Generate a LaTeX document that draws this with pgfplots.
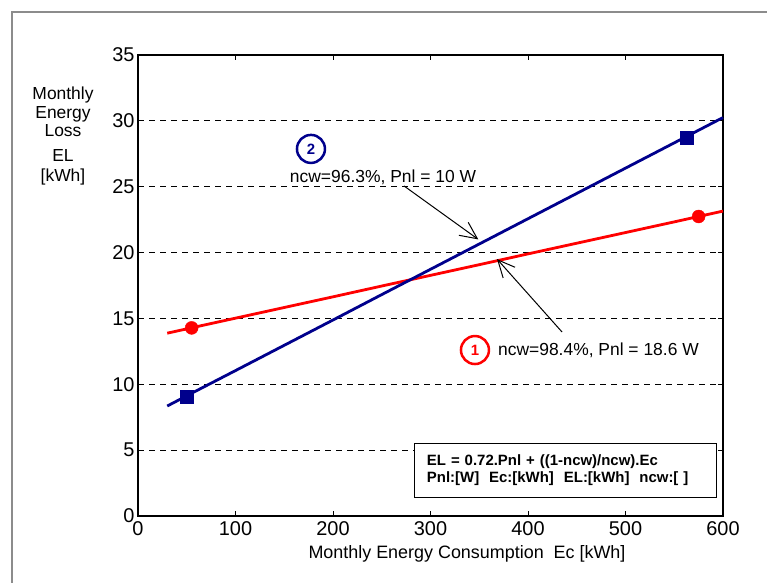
\documentclass[border=0pt]{standalone}
\usepackage{pgfplots}
\pgfplotsset{compat=1.18}
\usetikzlibrary{arrows.meta}
\usepackage{fontspec}
\setmainfont{Liberation Sans}
\definecolor{lossred}{RGB}{255,0,0}
\definecolor{lossblue}{RGB}{0,0,140}

\begin{document}
\begin{tikzpicture}
% outer frame (only top and left are visible)
\draw[gray!90, line width=2bp] (12bp,0bp) -- (12bp,571bp) -- (767bp,571bp);

\begin{axis}[
    at={(138bp,67bp)}, anchor=south west,
    width=585bp, height=461bp, scale only axis,
    xmin=0, xmax=600, ymin=0, ymax=35,
    xtick={0,100,...,600}, ytick={0,5,...,35},
    tick align=inside, major tick length=5bp,
    tick style={black, line width=0.8bp},
    axis line style={black, line width=1.2bp},
    ymajorgrids,
    major grid style={black, line width=0.8bp, dash pattern=on 6bp off 5bp},
    tick label style={font=\fontsize{20}{23}\selectfont},
    xticklabel style={yshift=-2bp},
    /pgf/number format/assume math mode=true,
    clip=false,
]
% 1: ncw = 98.4 %, Pnl = 18.6 W
\addplot[lossred, line width=2.8bp] coordinates {
    (30,13.88) (60,14.37) (100,15.02) (150,15.83) (200,16.64) (250,17.46)
    (300,18.27) (350,19.08) (400,19.90) (450,20.71) (500,21.52) (550,22.33) (600,23.15)
};
% 2: ncw = 96.3 %, Pnl = 10 W
\addplot[lossblue, line width=2.8bp] coordinates {
    (30,8.35) (60,9.51) (100,11.04) (150,12.96) (200,14.88) (250,16.81)
    (300,18.73) (350,20.65) (400,22.57) (450,24.49) (500,26.41) (550,28.33) (600,30.25)
};
\addplot[only marks, mark=*, lossred, mark size=6.5bp] coordinates {(55,14.28) (575,22.74)};
\addplot[only marks, mark=square*, lossblue, mark size=6.5bp] coordinates {(50,9.04) (563,28.7)};

% annotations
\node[circle, draw=lossblue, line width=2.5bp, minimum size=28bp, inner sep=0pt,
      text=lossblue, font=\fontsize{15}{18}\selectfont\bfseries] at (axis cs:177.4,27.87) {2};
\node[font=\fontsize{17.5}{20}\selectfont] at (axis cs:251.3,25.74) {ncw=96.3\%, Pnl = 10 W};
\draw[line width=1bp, -{Straight Barb[length=17bp, width=16bp]}] (axis cs:272.8,25.06) -- (axis cs:349,21.0);

\node[circle, draw=lossred, line width=2.5bp, minimum size=28bp, inner sep=0pt,
      text=lossred, font=\fontsize{15}{18}\selectfont\bfseries] at (axis cs:345.6,12.6) {1};
\node[anchor=west, inner sep=0pt, font=\fontsize{17.5}{20}\selectfont] at (axis cs:369.2,12.6) {ncw=98.4\%, Pnl = 18.6 W};
\draw[line width=1bp, -{Straight Barb[length=17bp, width=16bp]}] (axis cs:434.9,13.97) -- (axis cs:368.2,19.51);

\node[draw=black, line width=0.9bp, fill=white, text width=276bp, inner xsep=13bp,
      minimum height=54bp, align=left, font=\fontsize{15}{17.5}\selectfont\bfseries]
      at (axis cs:437.9,3.49)
      {EL = 0.72.Pnl + ((1-ncw)/ncw).Ec\\{}Pnl:[W]\ \ Ec:[kWh]\ \ EL:[kWh]\ \ ncw:[ ]};
\end{axis}

% axis titles
\node[align=center, font=\fontsize{17.5}{18.5}\selectfont] at (63bp,471bp) {Monthly\\Energy\\Loss};
\node[align=center, font=\fontsize{17.5}{20}\selectfont] at (63bp,416bp) {EL\\{}[kWh]};
\node[anchor=base, font=\fontsize{18}{21}\selectfont] at (467bp,25bp) {Monthly Energy Consumption\ \ Ec [kWh]};

\pgfresetboundingbox
\path[use as bounding box] (0bp,0bp) rectangle (767bp,583bp);
\end{tikzpicture}
\end{document}
